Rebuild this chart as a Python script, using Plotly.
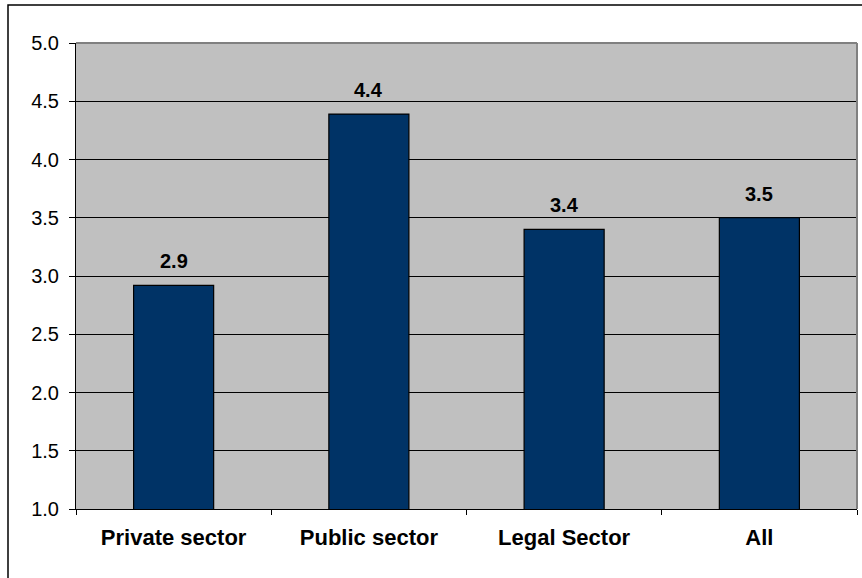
import plotly.graph_objects as go

categories = ["Private sector", "Public sector", "Legal Sector", "All"]
values = [2.92, 4.39, 3.40, 3.50]
labels = ["2.9", "4.4", "3.4", "3.5"]
y_ticks = [1.0, 1.5, 2.0, 2.5, 3.0, 3.5, 4.0, 4.5, 5.0]

FONT = "Liberation Sans, Arial, sans-serif"
W, H = 862, 578
ML, MR, MT, MB = 76, 5, 43, 69
PW, PH = W - ML - MR, H - MT - MB

fig = go.Figure()
fig.add_trace(go.Bar(
    x=categories, y=values, width=0.41,
    marker=dict(color="#003366", line=dict(color="#000000", width=1.2)),
    hoverinfo="skip",
))

for c, v, t in zip(categories, values, labels):
    fig.add_annotation(x=c, y=v, text=f"<b>{t}</b>", showarrow=False,
                       yanchor="bottom", yshift=11,
                       font=dict(family=FONT, size=20, color="#000000"))

# plot frame: gray top & right edges
fig.add_shape(type="line", xref="paper", yref="paper", x0=0, x1=1, y0=1, y1=1,
              line=dict(color="#808080", width=2))
fig.add_shape(type="line", xref="paper", yref="paper", x0=1, x1=1, y0=0, y1=1,
              line=dict(color="#808080", width=2))
# outer chart border
fig.add_shape(type="rect", xref="paper", yref="paper",
              x0=(8 - ML) / PW, x1=(W + 5 - ML) / PW,
              y0=-(H + 5 - MT - PH) / PH, y1=(H - 5 - MB) / PH,
              line=dict(color="#000000", width=1.5), layer="below")

fig.update_layout(
    width=W, height=H,
    margin=dict(l=ML, r=MR, t=MT, b=MB),
    paper_bgcolor="#FFFFFF", plot_bgcolor="#C0C0C0",
    showlegend=False, bargap=0.59,
    font=dict(family=FONT, color="#000000"),
)
fig.update_xaxes(
    showgrid=False, showline=True, linecolor="#000000", linewidth=1,
    ticks="outside", tickson="boundaries", ticklen=5, tickcolor="#000000",
    tickfont=dict(family=FONT, size=22, color="#000000"),
    tickvals=categories, ticktext=[f"<b>{c}</b>" for c in categories],
    ticklabelstandoff=9,
)
fig.update_yaxes(
    range=[1.0, 5.0], tickvals=y_ticks, ticktext=[f"{v:.1f}" for v in y_ticks],
    showgrid=True, gridcolor="#000000", gridwidth=1,
    showline=True, linecolor="#000000", linewidth=1,
    ticks="outside", ticklen=6, tickcolor="#000000",
    tickfont=dict(family=FONT, size=20, color="#000000"),
    ticklabelstandoff=6, zeroline=False,
)

fig.write_html("out.html")
